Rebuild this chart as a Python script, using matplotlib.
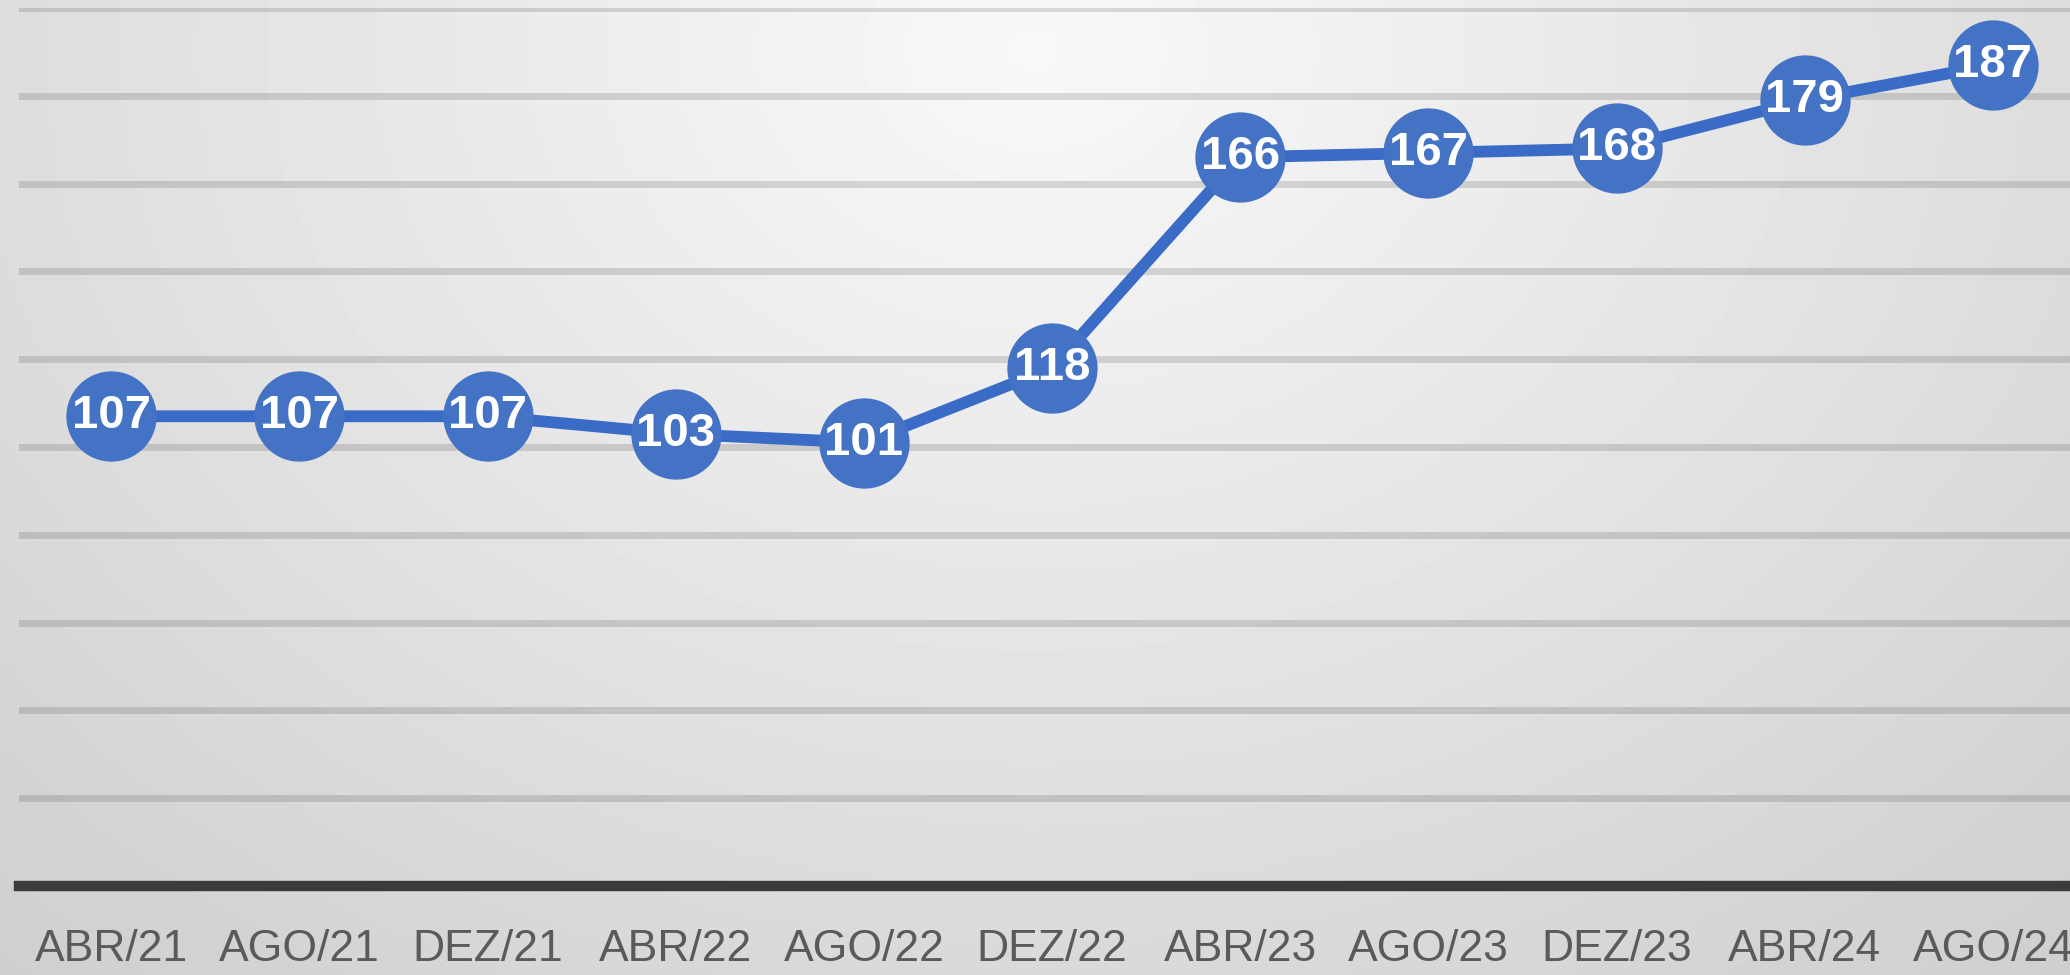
import numpy as np
import matplotlib.pyplot as plt

# data
months = ['ABR/21', 'AGO/21', 'DEZ/21', 'ABR/22', 'AGO/22', 'DEZ/22',
          'ABR/23', 'AGO/23', 'DEZ/23', 'ABR/24', 'AGO/24']
values = [107, 107, 107, 103, 101, 118, 166, 167, 168, 179, 187]
y_ticks = list(range(20, 201, 20))

W, H = 2070, 975
fig = plt.figure(figsize=(W / 100, H / 100), dpi=100)

# soft radial grey background
bg = fig.add_axes([0, 0, 1, 1], zorder=-1)
yy, xx = np.mgrid[0:1:200j, 0:1:400j]
r = np.sqrt(((xx - 0.5) / 0.6) ** 2 + ((yy - 0.05) / 1.0) ** 2)
shade = np.clip(0.975 - 0.13 * r, 0, 1)
bg.imshow(shade, cmap='gray', vmin=0, vmax=1, aspect='auto', extent=(0, 1, 1, 0))
bg.axis('off')

left = 19 / W
bottom = (H - 886) / H
top = (H - 8) / H
ax = fig.add_axes([left, bottom, 1 - left, top - bottom])
ax.set_facecolor('none')

x = np.arange(len(months))
ax.plot(x, values, color='#3a6bc6', linewidth=8.5, zorder=3, clip_on=False,
        marker='o', markersize=64, markerfacecolor='#4472C4',
        markeredgecolor='#4472C4', markeredgewidth=1)

for xi, v in zip(x, values):
    ax.text(xi, v, str(v), ha='center', va='center', color='white',
            fontsize=34, fontweight='bold', zorder=4,
            family=['Liberation Sans Narrow', 'Liberation Sans', 'DejaVu Sans'])

ax.set_xlim(-0.49, 10.41)
ax.set_ylim(0, 200)

ax.set_yticks(y_ticks)
ax.yaxis.grid(True, color='black', alpha=0.13, linewidth=5)
ax.set_axisbelow(True)
ax.tick_params(axis='y', left=False, labelleft=False)

ax.set_xticks(x)
ax.set_xticklabels(months, fontsize=32, color='#5a5a5a',
                   family=['Liberation Sans Narrow', 'Liberation Sans', 'DejaVu Sans'])
ax.tick_params(axis='x', length=0, pad=31)

for side in ['top', 'right', 'left']:
    ax.spines[side].set_visible(False)
ax.spines['bottom'].set_color('#3b3b3b')
ax.spines['bottom'].set_linewidth(7.5)

fig.savefig('out.png', dpi=100)
